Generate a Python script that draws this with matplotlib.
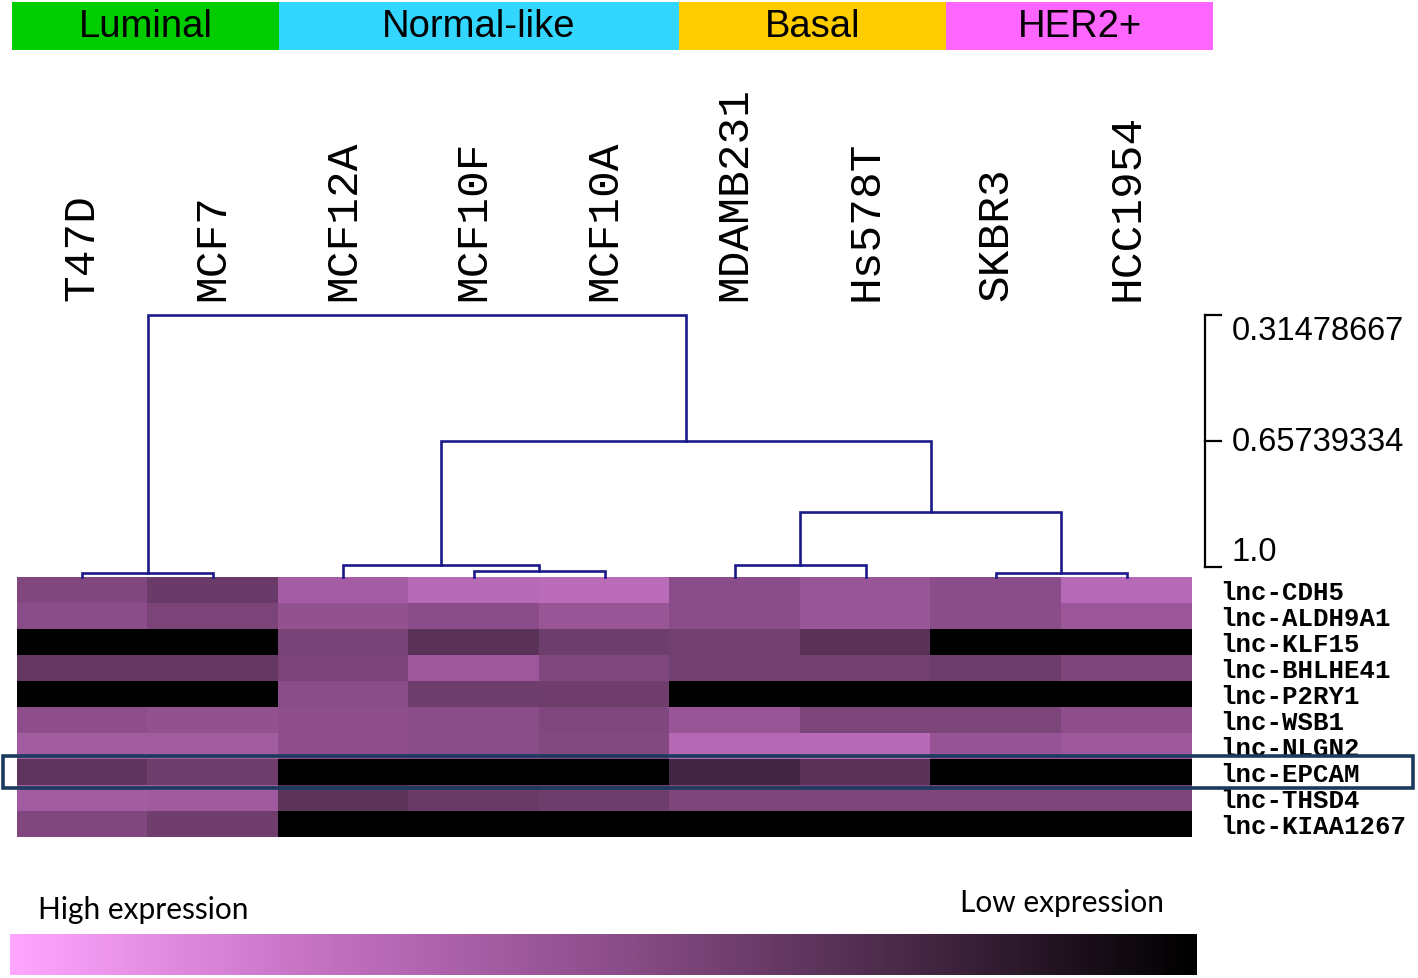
import numpy as np
import matplotlib.pyplot as plt
from matplotlib.colors import LinearSegmentedColormap
from matplotlib.patches import Rectangle
from matplotlib.transforms import blended_transform_factory

W, H = 1418, 979  # output size in pixels

cell_lines = ["T47D", "MCF7", "MCF12A", "MCF10F", "MCF10A",
              "MDAMB231", "Hs578T", "SKBR3", "HCC1954"]
genes = ["lnc-CDH5", "lnc-ALDH9A1", "lnc-KLF15", "lnc-BHLHE41", "lnc-P2RY1",
         "lnc-WSB1", "lnc-NLGN2", "lnc-EPCAM", "lnc-THSD4", "lnc-KIAA1267"]

# colour score per gene and cell line: 0 = high expression (pink), 1 = low (black)
cdh5     = [0.55, 0.63, 0.40, 0.32, 0.30, 0.51, 0.45, 0.51, 0.32]
aldh9a1  = [0.51, 0.57, 0.48, 0.51, 0.45, 0.51, 0.45, 0.51, 0.44]
klf15    = [1.00, 1.00, 0.58, 0.69, 0.62, 0.60, 0.69, 1.00, 1.00]
bhlhe41  = [0.65, 0.65, 0.57, 0.43, 0.55, 0.60, 0.60, 0.62, 0.56]
p2ry1    = [1.00, 1.00, 0.51, 0.62, 0.61, 1.00, 1.00, 1.00, 1.00]
wsb1     = [0.50, 0.48, 0.50, 0.51, 0.55, 0.45, 0.56, 0.56, 0.50]
nlgn2    = [0.41, 0.41, 0.50, 0.51, 0.54, 0.33, 0.32, 0.46, 0.43]
epcam    = [0.67, 0.62, 1.00, 1.00, 1.00, 0.77, 0.69, 1.00, 1.00]
thsd4    = [0.41, 0.42, 0.68, 0.64, 0.62, 0.56, 0.56, 0.56, 0.56]
kiaa1267 = [0.55, 0.61, 1.00, 1.00, 1.00, 1.00, 1.00, 1.00, 1.00]

subtypes = ["Luminal", "Normal-like", "Basal", "HER2+"]
subtype_n = [2, 3, 2, 2]
subtype_colors = ["#00cc00", "#33d6ff", "#ffcc00", "#ff66ff"]

# hierarchical clustering (scipy style ids: leaves 0-8, new clusters 9..)
merges = [
    (0, 1, 1.016),
    (3, 4, 1.011),
    (2, 10, 0.995),
    (5, 6, 0.995),
    (7, 8, 1.016),
    (12, 13, 0.850),
    (11, 14, 0.65739334),
    (9, 15, 0.31478667),
]
leaf_base = 1.027
scale_ticks = [0.31478667, 0.65739334, 1.0]

highlight = "lnc-EPCAM"

cmap = LinearSegmentedColormap.from_list(
    "expr", [(0.0, "#ffa6ff"), (0.25, "#c673c4"), (0.5, "#8e4f8c"),
             (0.75, "#4a2a48"), (1.0, "#000000")])


def fig_rect(x0, y0, x1, y1):
    # pixel box (top-left origin) -> figure fraction
    return [x0 / W, 1 - y1 / H, (x1 - x0) / W, (y1 - y0) / H]


fig = plt.figure(figsize=(W / 100, H / 100), dpi=100)

# ---- heatmap
data = np.array([cdh5, aldh9a1, klf15, bhlhe41, p2ry1, wsb1, nlgn2,
                 epcam, thsd4, kiaa1267])
ax_hm = fig.add_axes(fig_rect(17, 578, 1192, 838))
ax_hm.imshow(data, cmap=cmap, vmin=0, vmax=1, aspect="auto",
             interpolation="nearest")
ax_hm.set_axis_off()

ytr = ax_hm.get_yaxis_transform()
hi = genes.index(highlight)
for i, g in enumerate(genes):
    ax_hm.text(1.024, i, g, transform=ytr, ha="left", va="center_baseline",
               fontsize=18.5, family="Liberation Mono", fontweight="bold",
               clip_on=False, zorder=6 if i == hi else 4)

# frame round the highlighted row, hiding the label above where it overlaps
btr = blended_transform_factory(fig.transFigure, ax_hm.transData)
ax_hm.add_patch(Rectangle((1192 / W, hi - 0.6), (1412 - 1192) / W, 1.2,
                          transform=btr, facecolor="white", edgecolor="none",
                          clip_on=False, zorder=5))
ax_hm.add_patch(Rectangle((3 / W, hi - 0.6), (1413 - 3) / W, 1.2,
                          transform=btr, facecolor="none", edgecolor="#1b3a5e",
                          linewidth=2.6, clip_on=False, zorder=7))

# ---- dendrogram
ax_dn = fig.add_axes(fig_rect(17, 316, 1192, 578))
ax_dn.set_xlim(-0.5, len(cell_lines) - 0.5)
ax_dn.set_ylim(leaf_base, scale_ticks[0])
dn_color = "#1a1a8a"
pos = {i: (float(i), leaf_base) for i in range(len(cell_lines))}
for k, (a, b, h) in enumerate(merges):
    xa, ya = pos[a]
    xb, yb = pos[b]
    ax_dn.plot([xa, xa, xb, xb], [ya, h, h, yb], color=dn_color, lw=1.9,
               clip_on=False, solid_joinstyle="miter")
    pos[len(cell_lines) + k] = ((xa + xb) / 2, h)

for s in ax_dn.spines.values():
    s.set_visible(False)
ax_dn.set_yticks([])
ax_dn.xaxis.tick_top()
ax_dn.set_xticks(range(len(cell_lines)))
ax_dn.set_xticklabels(cell_lines, rotation=90, fontsize=32,
                      family="Liberation Mono")
ax_dn.tick_params(axis="x", length=0, pad=11)

# similarity scale bracket
str_ = ax_dn.get_yaxis_transform()
bx, tx = 1.011, 1.0245
ax_dn.plot([bx, bx], [scale_ticks[0], scale_ticks[-1]], color="black",
           lw=1.6, transform=str_, clip_on=False)
for t, va in zip(scale_ticks, ["top", "center", "bottom"]):
    ax_dn.plot([bx, tx], [t, t], color="black", lw=1.6, transform=str_,
               clip_on=False)
    ax_dn.text(1.034, t, str(t), transform=str_, ha="left", va=va,
               fontsize=23.5, family="Liberation Sans", clip_on=False)

# ---- subtype header
ax_hdr = fig.add_axes(fig_rect(12, 3, 1213, 51))
left = np.concatenate([[0], np.cumsum(subtype_n)[:-1]])
ax_hdr.barh(0, subtype_n, left=left, height=1, color=subtype_colors)
for name, l, n in zip(subtypes, left, subtype_n):
    ax_hdr.text(l + n / 2, 0, name, ha="center", va="center", fontsize=27.5,
                family="Liberation Sans")
ax_hdr.set_xlim(0, sum(subtype_n))
ax_hdr.set_ylim(-0.5, 0.5)
ax_hdr.set_axis_off()

# ---- colour bar
ax_cb = fig.add_axes(fig_rect(10, 935, 1197, 976))
ax_cb.imshow(np.linspace(0, 1, 512)[None, :], cmap=cmap, aspect="auto")
ax_cb.set_axis_off()
fig.text(38 / W, 1 - 910 / H, "High expression", ha="left", va="center",
         fontsize=21.5, family="Lato")
fig.text(960 / W, 1 - 903 / H, "Low expression", ha="left", va="center",
         fontsize=21.5, family="Lato")

fig.savefig("out.png", dpi=100)
